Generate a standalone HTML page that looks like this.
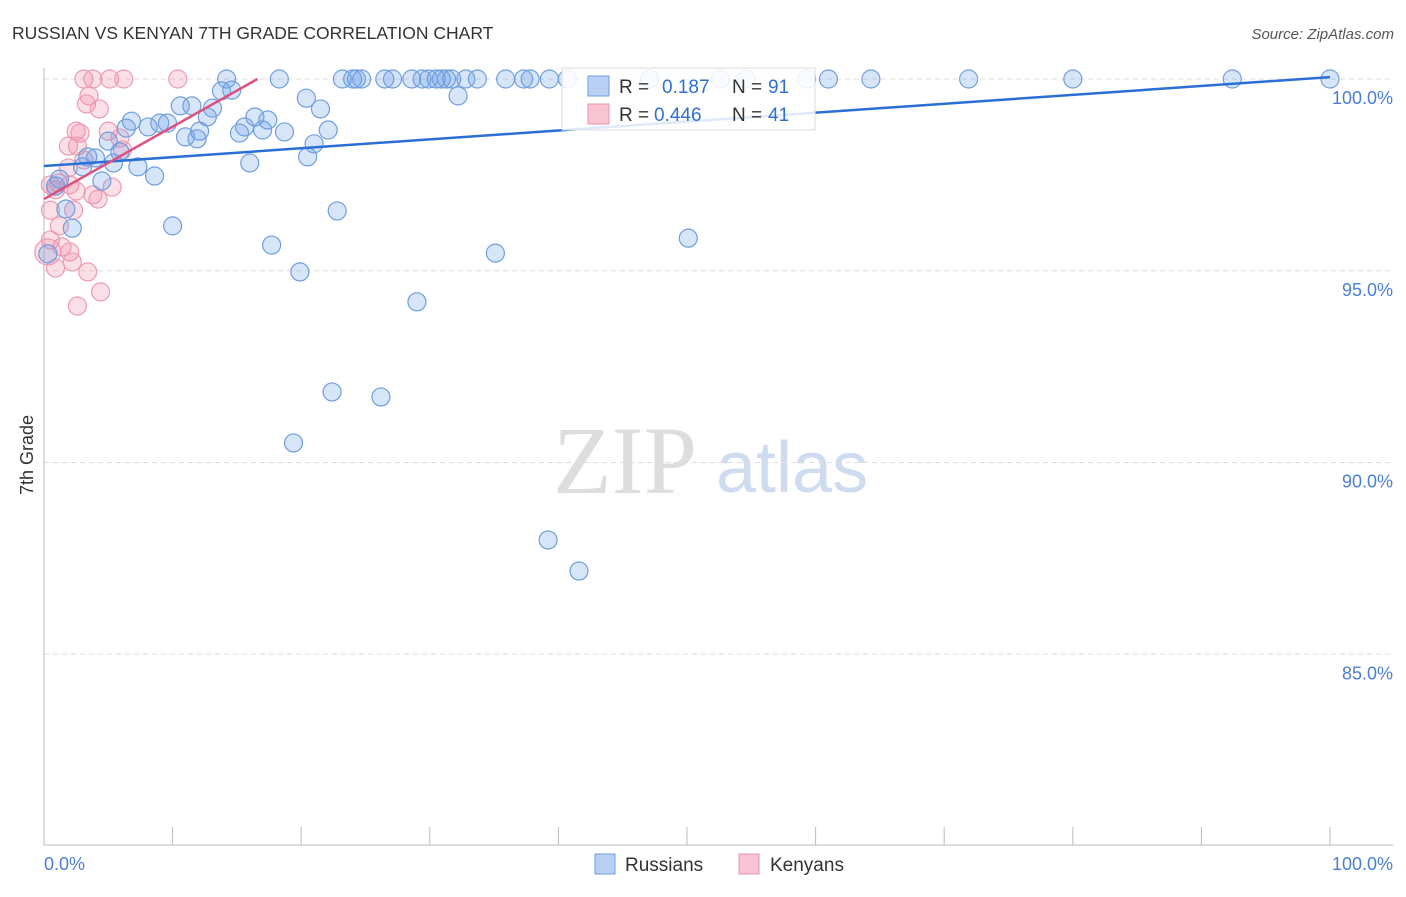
<!DOCTYPE html>
<html><head><meta charset="utf-8"><style>
body{margin:0;background:#fff;font-family:"Liberation Sans",sans-serif}
svg text{font-family:"Liberation Sans",sans-serif}
</style></head><body>
<svg id="c" width="1406" height="892" viewBox="0 0 1406 892">
<text x="12" y="39" font-size="17.5" fill="#333">RUSSIAN VS KENYAN 7TH GRADE CORRELATION CHART</text>
<text x="1394" y="39" font-size="15" fill="#555" text-anchor="end" font-style="italic">Source: ZipAtlas.com</text>
<text x="33" y="455" font-size="18" fill="#333" text-anchor="middle" transform="rotate(-90 33 455)">7th Grade</text>
<g>
<text x="553" y="493" font-size="96" fill="#ddd" font-family="Liberation Serif,serif" style="font-family:'Liberation Serif',serif">ZIP</text>
<text x="716" y="492" font-size="72" fill="#cfdcf0">atlas</text>
</g>
<g id="grid"></g><g id="axes"></g><g id="pts"></g><g id="trends"></g>
<g>
<rect x="562" y="68" width="253" height="62" fill="#fff" fill-opacity="0.85" stroke="#ddd"/>
<rect x="588" y="76" width="21" height="20" fill="#b7d0f3" stroke="#6f9ee0"/>
<rect x="588" y="104" width="21" height="20" fill="#f8c4d3" stroke="#ea93ad"/>
<text x="619" y="93" font-size="19" fill="#333">R = </text><text x="662" y="93" font-size="19" fill="#2f6fd0">0.187</text>
<text x="732" y="93" font-size="19" fill="#333">N = </text><text x="768" y="93" font-size="19" fill="#2f6fd0">91</text>
<text x="619" y="121" font-size="19" fill="#333">R = </text><text x="654" y="121" font-size="19" fill="#2f6fd0">0.446</text>
<text x="732" y="121" font-size="19" fill="#333">N = </text><text x="768" y="121" font-size="19" fill="#2f6fd0">41</text>
</g>
<g>
<rect x="595" y="854" width="20" height="20" fill="#b7d0f3" stroke="#6f9ee0"/>
<text x="625" y="871" font-size="19" fill="#333">Russians</text>
<rect x="739" y="854" width="20" height="20" fill="#f8c4d3" stroke="#ea93ad"/>
<text x="770" y="871" font-size="19" fill="#333">Kenyans</text>
</g>
</svg>
<script>
const yTicks=[100,95,90,85];
const yTickLabels=["100.0%","95.0%","90.0%","85.0%"];
const xTickLabels=["0.0%","100.0%"];
const russiansX=[14.2,18.3,23.2,24.0,24.3,24.7,26.5,27.1,28.6,29.4,29.9,30.5,30.9,31.3,31.7,32.8,33.7,35.9,37.3,37.8,39.3,40.7,47.1,52.6,54.6,59.3,61.0,64.3,71.9,80.0,92.4,100,
14.6,13.8,32.2,20.4,10.6,11.5,13.1,21.5,12.7,16.4,17.4,6.8,9.0,9.6,8.1,6.4,22.1,15.6,17.0,18.7,12.1,15.2,11.0,11.9,5.0,21.0,5.9,3.4,4.0,20.5,5.4,16.0,7.3,3.0,8.6,4.5,1.2,0.9,22.8,1.7,10.0,2.2,50.1,17.7,35.1,0.3,19.9,29.0,22.4,26.2,19.4,39.2,41.6];
const russiansY=[100,100,100,100,100,100,100,100,100,100,100,100,100,100,100,100,100,100,100,100,100,100,100,100,100,100,100,100,100,100,100,100,
99.71,99.69,99.56,99.5,99.3,99.3,99.24,99.22,99.01,99.01,98.93,98.9,98.85,98.85,98.75,98.72,98.67,98.75,98.67,98.62,98.64,98.59,98.49,98.44,98.38,98.31,98.1,97.97,97.94,97.97,97.81,97.81,97.71,97.71,97.47,97.34,97.39,97.21,96.56,96.61,96.17,96.11,95.85,95.67,95.46,95.44,94.97,94.19,91.84,91.71,90.51,87.98,87.17];
const kenyansX=[3.1,3.8,5.1,6.2,10.4,3.5,3.3,4.3,2.5,2.8,5.0,1.9,2.6,5.9,6.1,3.1,1.9,1.1,0.9,2.5,5.3,3.8,4.2,0.5,2.3,1.2,0.5,1.4,2.0,2.2,0.9,3.4,4.4,2.6,0.3,2.0,0.5];
const kenyansY=[100,100,100,100,100,99.56,99.35,99.22,98.64,98.59,98.64,98.25,98.25,98.46,98.15,97.89,97.68,97.29,97.11,97.08,97.18,96.98,96.87,96.58,96.58,96.17,95.8,95.62,95.49,95.23,95.07,94.97,94.45,94.08,95.49,97.24,97.24];
const russiansTrend=[[0,97.73],[100,100.05]];
const kenyansTrend=[[0,96.87],[16.6,100]];
const NS="http://www.w3.org/2000/svg";
const xS=v=>44+v*12.86;
const yS=v=>79+(100-v)*38.35;
function mk(tag,attrs,parent){const e=document.createElementNS(NS,tag);for(const k in attrs)e.setAttribute(k,attrs[k]);document.getElementById(parent).appendChild(e);return e;}
yTicks.forEach((t,i)=>{
 const l=mk('line',{x1:44,x2:1393,y1:yS(t),y2:yS(t),stroke:'#ddd','stroke-dasharray':'5,4'},'grid');
 
 
 const tx=mk('text',{x:1393,y:yS(t)+25,'font-size':18,fill:'#4a7fd4','text-anchor':'end'},'axes');
 tx.textContent=yTickLabels[i];
 
 
});
let a=mk('line',{x1:44,x2:44,y1:68,y2:845,stroke:'#bbb'},'axes');


a=mk('line',{x1:44,x2:1393,y1:845,y2:845,stroke:'#bbb'},'axes');


for(let i=0;i<=10;i++){const t=mk('line',{x1:xS(i*10),x2:xS(i*10),y1:827,y2:845,stroke:'#bbb'},'axes');
 
 }
[[0,'start',44],[100,'end',1393]].forEach((d,i)=>{const t=mk('text',{x:d[2],y:870,'font-size':18,fill:'#4a7fd4','text-anchor':d[1]},'axes');t.textContent=xTickLabels[i];
 
 });
kenyansX.forEach((x,i)=>{const c=mk('circle',{cx:xS(x),cy:yS(kenyansY[i]),r:(i==34?13:9),fill:'rgba(240,140,170,0.28)',stroke:'#ec9bb3','stroke-width':1.2},'pts');
 
 });
russiansX.forEach((x,i)=>{const c=mk('circle',{cx:xS(x),cy:yS(russiansY[i]),r:9,fill:'rgba(110,160,230,0.28)',stroke:'#6f9ee0','stroke-width':1.2},'pts');
 
 });
let t=mk('line',{x1:xS(russiansTrend[0][0]),y1:yS(russiansTrend[0][1]),x2:xS(russiansTrend[1][0]),y2:yS(russiansTrend[1][1]),stroke:'#2a6fd6','stroke-width':2.5},'trends');


t=mk('line',{x1:xS(kenyansTrend[0][0]),y1:yS(kenyansTrend[0][1]),x2:xS(kenyansTrend[1][0]),y2:yS(kenyansTrend[1][1]),stroke:'#e0507e','stroke-width':2.5},'trends');


</script>
</body></html>
